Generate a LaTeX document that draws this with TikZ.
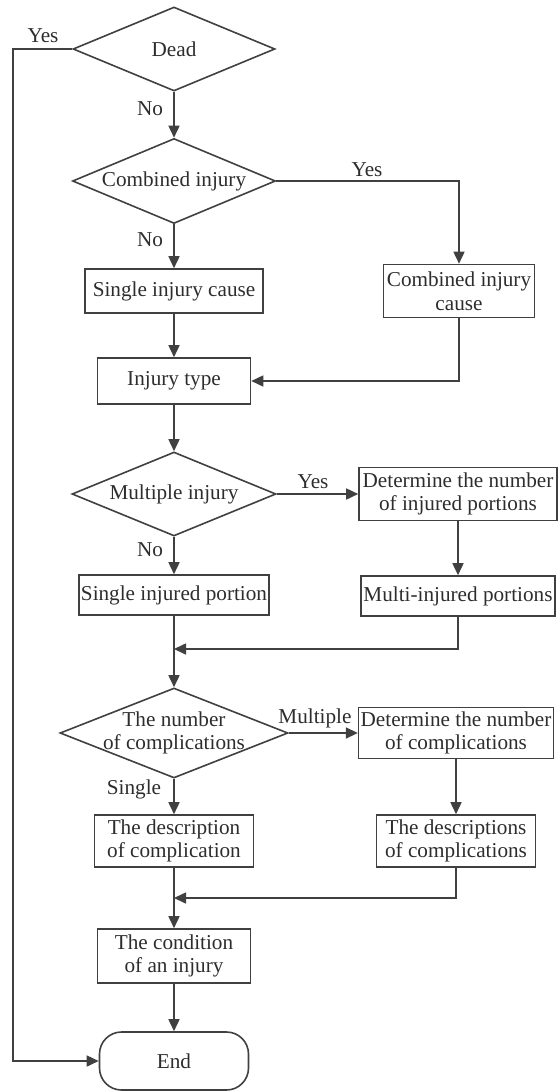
\documentclass[tikz,border=0pt]{standalone}
\usepackage{fontspec}
\setmainfont{Liberation Serif}
\newfontfamily\diagfont{Liberation Serif}
\usepackage{tikz}
\usetikzlibrary{shapes.geometric, arrows.meta}
\definecolor{linegray}{RGB}{64, 64, 64}
\definecolor{textgray}{RGB}{45, 45, 45}

\begin{document}
\begin{tikzpicture}[
  x=0.5pt, y=-0.5pt,
  every node/.style={font=\diagfont\fontsize{10.6pt}{11.8pt}\selectfont, text=textgray},
  dec/.style={draw=linegray, diamond, aspect=2.4, line width=0.8pt, inner sep=-4pt, align=center},
  box/.style={draw=linegray, rectangle, line width=0.8pt, inner sep=1pt, align=center},
  term/.style={draw=linegray, rectangle, rounded corners=11pt, line width=0.8pt, minimum width=74.5pt, minimum height=29pt},
  arr/.style={draw=linegray, line width=0.8pt, -{Triangle[length=6pt, width=5.5pt]}},
  lbl/.style={inner sep=1pt},
]
  \useasboundingbox (0,0) rectangle (560,1092);

  % Decisions
  \node[dec, minimum width=101pt, minimum height=42pt] (dead) at (174,49) {Dead};
  \node[dec, minimum width=101.5pt, minimum height=42.5pt] (comb) at (174,181) {Combined injury};
  \node[dec, minimum width=102pt, minimum height=42pt] (mult) at (174,494) {Multiple injury};
  \node[dec, minimum width=114pt, minimum height=45pt] (ncomp) at (174,733) {The number\\of complications};

  % Boxes
  \node[box, minimum width=89pt, minimum height=22pt] (sic) at (174,291) {Single injury cause};
  \node[box, minimum width=75.5pt, minimum height=26.5pt] (cic) at (459,291) {Combined injury\\cause};
  \node[box, minimum width=76.5pt, minimum height=23pt] (type) at (174,381) {Injury type};
  \node[box, minimum width=99pt, minimum height=26.5pt] (dip) at (458,494) {Determine the number\\of injured portions};
  \node[box, minimum width=97pt, minimum height=20pt] (mip) at (458,596) {Multi-injured portions};
  \node[box, minimum width=95pt, minimum height=20pt] (sip) at (174,595) {Single injured portion};
  \node[box, minimum width=96.5pt, minimum height=25.5pt] (dnc) at (456,733) {Determine the number\\of complications};
  \node[box, minimum width=79.5pt, minimum height=26pt] (dcs) at (456,841) {The descriptions\\of complications};
  \node[box, minimum width=79.5pt, minimum height=26pt] (dc) at (174,841) {The description\\of complication};
  \node[box, minimum width=76.5pt, minimum height=27pt] (cond) at (174,956) {The condition\\of an injury};
  \node[term] (end) at (174,1061) {End};

  % Bends
  \coordinate (lft) at (13,49);
  \coordinate (m1) at (174,649);
  \coordinate (m2) at (174,898);

  % Connections
  \draw[arr] (dead.west) -- (lft) |- (end.west);
  \draw[arr] (dead.south) -- (comb.north);
  \draw[arr] (comb.east) -| (cic.north);
  \draw[arr] (comb.south) -- (sic.north);
  \draw[arr] (sic.south) -- (type.north);
  \draw[arr] (cic.south) |- (type.east);
  \draw[arr] (type.south) -- (mult.north);
  \draw[arr] (mult.east) -- (dip.west);
  \draw[arr] (dip.south) -- (mip.north);
  \draw[arr] (mult.south) -- (sip.north);
  \draw[arr] (sip.south) -- (ncomp.north);
  \draw[arr] (mip.south) |- (m1);
  \draw[arr] (ncomp.east) -- (dnc.west);
  \draw[arr] (dnc.south) -- (dcs.north);
  \draw[arr] (ncomp.south) -- (dc.north);
  \draw[arr] (dc.south) -- (cond.north);
  \draw[arr] (dcs.south) |- (m2);
  \draw[arr] (cond.south) -- (end.north);

  % Branch labels
  \node[lbl] (ydead) at (43,36) {Yes};
  \node[lbl] (ndead) at (150,109) {No};
  \node[lbl] (ycomb) at (367,170) {Yes};
  \node[lbl] (ncombl) at (150,240) {No};
  \node[lbl] (ymult) at (313,482) {Yes};
  \node[lbl] (nmult) at (150,550) {No};
  \node[lbl] (mcomp) at (315,718) {Multiple};
  \node[lbl] (scomp) at (134,789) {Single};

\end{tikzpicture}
\end{document}
